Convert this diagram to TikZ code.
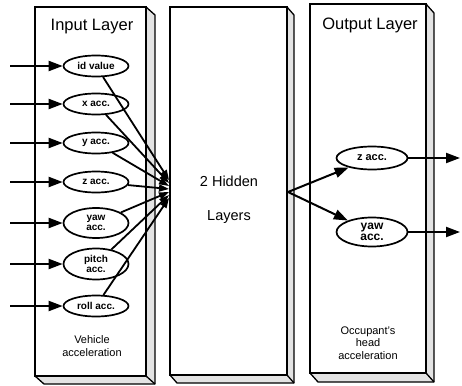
\documentclass[tikz,border=0pt]{standalone}
\usepackage{fontspec}
\setmainfont{Liberation Sans}
\usetikzlibrary{arrows.meta,shapes.geometric}
\begin{document}
\begin{tikzpicture}[x=1pt,y=-1pt,
  slab/.style={draw, line width=1.9pt, fill=white},
  side/.style={draw, line width=1.3pt, fill=gray!22, line join=round},
  unit/.style={ellipse, draw, line width=1.7pt, fill=white, inner sep=0pt,
    minimum width=65pt, minimum height=21pt, align=center,
    font=\fontsize{10}{9.5}\selectfont\bfseries},
  feed/.style={line width=2.1pt, -{Triangle[length=14pt,width=10pt]}},
  tolink/.style={line width=1.8pt, -{Triangle[length=10pt,width=7pt]}},
  outlink/.style={line width=2pt, -{Triangle[length=14pt,width=10pt]}},
  title/.style={font=\fontsize{16.5}{18}\selectfont},
  note/.style={font=\fontsize{11}{12.5}\selectfont, align=center}]
\useasboundingbox (0,0) rectangle (462,385);

% input layer slab
\filldraw[side] (146,7) -- (155,15) -- (155,384) -- (44,384) -- (35,376) -- (146,376) -- cycle;
\draw[side] (146,376) -- (155,384);
\draw[slab] (35,7) rectangle (146,376);
% hidden layers slab
\filldraw[side] (287,7) -- (294,15) -- (294,383) -- (177,383) -- (170,375) -- (287,375) -- cycle;
\draw[side] (287,375) -- (294,383);
\draw[slab] (170,7) rectangle (287,375);
% output layer slab
\filldraw[side] (426,4) -- (434,13) -- (434,382) -- (318,382) -- (310,373) -- (426,373) -- cycle;
\draw[side] (426,373) -- (434,382);
\draw[slab] (310,4) rectangle (426,373);

% titles and captions
\node[title] (tin) at (92,27) {Input Layer};
\node[title] (tout) at (370,25) {Output Layer};
\node[font=\fontsize{14.5}{16}\selectfont] (h1) at (229,181) {2 Hidden};
\node[font=\fontsize{14.5}{16}\selectfont] (h2) at (229,217) {Layers};
\node[note] (cin) at (92,346) {Vehicle\\acceleration};
\node[note] (cout) at (368,343) {Occupant's\\head\\acceleration};

% input units
\node[unit] (i1) at (96,66) {id value};
\node[unit] (i2) at (96,104) {x acc.};
\node[unit] (i3) at (96,143) {y acc.};
\node[unit] (i4) at (96,182) {z acc.};
\node[unit, minimum height=30pt] (i5) at (96,223) {yaw\\acc.};
\node[unit, minimum height=31pt] (i6) at (96,264) {pitch\\acc.};
\node[unit] (i7) at (96,306) {roll acc.};

% output units
\node[unit, minimum width=71pt, minimum height=23pt, font=\fontsize{11}{10}\selectfont\bfseries] (o1) at (372,158) {z acc.};
\node[unit, minimum width=71pt, minimum height=29pt, font=\fontsize{12}{10.5}\selectfont\bfseries] (o2) at (372,232) {yaw\\acc.};

% free ends of the feed lines
\foreach \k/\y in {1/66,2/104,3/143,4/182,5/223,6/264,7/306}
  \coordinate (s\k) at (10,\y);
\foreach \k/\y in {1/158,2/232}
  \coordinate (e\k) at (460,\y);
\foreach \k/\y in {1/180,2/183,3/186,4/189,5/192,6/195,7/198}
  \coordinate (c\k) at (169,\y);
\coordinate (fan) at (288,192);

% input feeds
\foreach \k in {1,...,7}
  \draw[feed] (s\k) -- (i\k);
% input units to hidden layers
\foreach \k in {1,...,7}
  \draw[tolink] (i\k) -- (c\k);
% hidden layers to output units
\draw[outlink] (fan) -- (o1);
\draw[outlink] (fan) -- (o2);
% output feeds
\draw[feed] (o1) -- (e1);
\draw[feed] (o2) -- (e2);
\end{tikzpicture}
\end{document}
